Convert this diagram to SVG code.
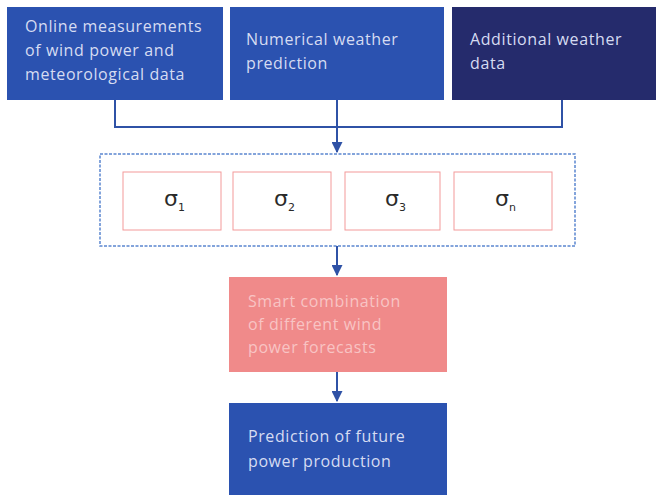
<svg xmlns="http://www.w3.org/2000/svg" width="662" height="495" viewBox="0 0 662 495">
<defs>
<style>
.t{font-family:"Open Sans","Noto Sans",sans-serif;font-size:16px;letter-spacing:0.6px;fill:#d6dcf2;}
.tp{font-family:"Open Sans","Noto Sans",sans-serif;font-size:16px;letter-spacing:0.6px;fill:#f8c4c4;}
.s{font-family:"DejaVu Sans","Liberation Sans",sans-serif;font-size:22px;fill:#2a2a2a;}
.sub{font-size:11px;}
.con{stroke:#2f52a6;stroke-width:2;fill:none;}
</style>
<marker id="ah" viewBox="0 0 10 10" refX="9" refY="5" markerWidth="5.5" markerHeight="5.5" orient="auto" markerUnits="strokeWidth">
<path d="M0,0 L10,5 L0,10 z" fill="#2f52a6"/>
</marker>
</defs>
<rect width="662" height="495" fill="#ffffff"/>
<g id="n1">
<rect x="7" y="7" width="216" height="93" fill="#2b52b0"/>
<text class="t" x="25" y="32">Online measurements</text>
<text class="t" x="25" y="56">of wind power and</text>
<text class="t" x="25" y="80">meteorological data</text>
</g>
<g id="n2">
<rect x="230" y="7" width="214" height="93" fill="#2b52b0"/>
<text class="t" x="246" y="45">Numerical weather</text>
<text class="t" x="246" y="69">prediction</text>
</g>
<g id="n3">
<rect x="452" y="7" width="204" height="93" fill="#252b6c"/>
<text class="t" x="470" y="45">Additional weather</text>
<text class="t" x="470" y="69">data</text>
</g>
<g id="n4">
<rect x="100" y="154" width="475" height="92" fill="#ffffff" stroke="#5b86d0" stroke-width="1.5" stroke-dasharray="3,1.5"/>
</g>
<g id="s1">
<rect x="123" y="172" width="98" height="58" fill="#ffffff" stroke="#f39a9a" stroke-width="1"/>
<text class="s" x="164" y="206">σ<tspan class="sub" dy="5">1</tspan></text>
</g>
<g id="s2">
<rect x="233" y="172" width="98" height="58" fill="#ffffff" stroke="#f39a9a" stroke-width="1"/>
<text class="s" x="274" y="206">σ<tspan class="sub" dy="5">2</tspan></text>
</g>
<g id="s3">
<rect x="345" y="172" width="95" height="58" fill="#ffffff" stroke="#f39a9a" stroke-width="1"/>
<text class="s" x="385" y="206">σ<tspan class="sub" dy="5">3</tspan></text>
</g>
<g id="s4">
<rect x="454" y="172" width="98" height="58" fill="#ffffff" stroke="#f39a9a" stroke-width="1"/>
<text class="s" x="495" y="206">σ<tspan class="sub" dy="5">n</tspan></text>
</g>
<g id="n5">
<rect x="229" y="277" width="218" height="95" fill="#f08a8a"/>
<text class="tp" x="248" y="307">Smart combination</text>
<text class="tp" x="248" y="330">of different wind</text>
<text class="tp" x="248" y="353">power forecasts</text>
</g>
<g id="n6">
<rect x="229" y="403" width="218" height="92" fill="#2b52b0"/>
<text class="t" x="248" y="442">Prediction of future</text>
<text class="t" x="248" y="467">power production</text>
</g>
<g id="connectors">
<path class="con" d="M115,100 V127 H562 V100"/>
<path class="con" d="M337,100 V152" marker-end="url(#ah)"/>
<path class="con" d="M337,246 V275" marker-end="url(#ah)"/>
<path class="con" d="M337,372 V401" marker-end="url(#ah)"/>
</g>
</svg>
